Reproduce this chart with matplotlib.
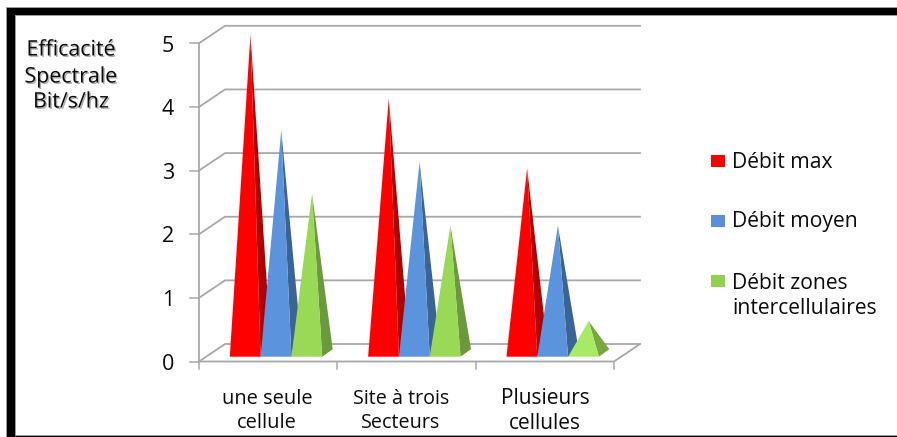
import matplotlib
matplotlib.use("Agg")
import matplotlib.pyplot as plt
import matplotlib.patheffects as pe
from matplotlib.patches import Rectangle

plt.rcParams['font.family'] = ['Open Sans', 'DejaVu Sans']

W, H = 897, 437

categories = ["une seule\ncellule", "Site à trois\nSecteurs", "Plusieurs\ncellules"]
series_names = ["Débit max", "Débit moyen", "Débit zones\nintercellulaires"]
debit_max = [5.0, 4.0, 2.9]
debit_moyen = [3.5, 3.0, 2.0]
debit_zones = [2.5, 2.0, 0.5]
y_ticks = [0, 1, 2, 3, 4, 5]

front_colors = ["#ff0000", "#5b93dc", "#99d955"]
side_colors = ["#b00000", "#3b6496", "#6a9a3b"]

fig = plt.figure(figsize=(W / 100, H / 100), dpi=100)
fig.patch.set_facecolor("white")

# frame around the picture, black with a thin grey edge
for x, y, w, h, c in [(6, 7, 891, 9, "#9a9a9a"), (6, 7, 9.5, 430, "#9a9a9a"), (6, 435, 891, 2, "#9a9a9a"),
                      (7, 8, 890, 7, "black"), (7, 8, 7.5, 429, "black"), (7, 436, 890, 1, "black")]:
    fig.add_artist(Rectangle((x / W, 1 - (y + h) / H), w / W, h / H, transform=fig.transFigure,
                             facecolor=c, edgecolor="none"))

# axes = front plane of the fake 3d box
left, right, top, bottom = 199, 614, 43.3, 361.5
ax = fig.add_axes([left / W, 1 - bottom / H, (right - left) / W, (bottom - top) / H])
ax.set_xlim(0, 3)
ax.set_ylim(0, 5)
ax.axis("off")

ux = (right - left) / 3
uy = (bottom - top) / 5
box_dx, box_dy = 26 / ux, 17.5 / uy
grid = "#a8a8a8"

# back wall and floor
for t in y_ticks:
    ax.plot([0, box_dx, 3 + box_dx], [t, t + box_dy, t + box_dy], color=grid, lw=1.3, clip_on=False, zorder=1)
    ax.plot([-9 / ux, 0], [t, t], color=grid, lw=1.1, clip_on=False, zorder=1)
ax.plot([0, 0], [0, 5], color=grid, lw=1.3, clip_on=False, zorder=1)
ax.plot([0, 3, 3 + box_dx], [0, 0, box_dy], color=grid, lw=1.3, clip_on=False, zorder=1)
for i in range(4):
    ax.plot([i, i], [0, -7 / uy], color=grid, lw=1.1, clip_on=False, zorder=1)

# pyramids
bar_w = 30.8 / ux
base_y = 4.8 / uy
dep_x, dep_y = 10.5 / ux, 7.5 / uy
series = [debit_max, debit_moyen, debit_zones]
z = 3
for g in range(3):
    for s, vals in enumerate(series):
        x0 = g + bar_w + s * bar_w
        x1 = x0 + bar_w
        ax_x = (x0 + x1) / 2 + dep_x / 2
        ax_y = base_y + dep_y / 2 + vals[g]
        front = "#a8ea66" if (g == 2 and s == 2) else front_colors[s]
        side = "#76a83e" if (g == 2 and s == 2) else side_colors[s]
        ax.fill([x1, x1 + dep_x, ax_x], [base_y, base_y + dep_y, ax_y], color=side, lw=0, clip_on=False, zorder=z)
        ax.fill([x0, x1, ax_x], [base_y, base_y, ax_y], color=front, lw=0, clip_on=False, zorder=z + 1)
        z += 2

def px_text(x, y, s, size=15, **kw):
    fig.text(x / W, 1 - y / H, s, fontsize=size, ha=kw.pop("ha", "center"), va="center", color="#0b0b0b",
             linespacing=kw.pop("linespacing", 1.3), **kw)

for t in y_ticks:
    px_text(168, 364 - t * 63.6, str(t), size=15.5)

px_text(267, 411, categories[0], size=14.4)
px_text(401, 411, categories[1], size=14.2)
px_text(545, 411, categories[2], size=15)

shadow = [pe.withSimplePatchShadow(offset=(1, -1), shadow_rgbFace="#777777", alpha=0.6)]
for y, s in zip([50, 77, 102], ["Efficacité", "Spectrale", "Bit/s/hz"]):
    px_text(71, y, s, size=15.4, path_effects=shadow)

# legend
for y, c, s, ty in zip([161, 221, 281], ["#ff0000", "#5b8fd8", "#92d050"], series_names, [162, 222, 296]):
    fig.add_artist(Rectangle((711 / W, 1 - (y + 6) / H), 14 / W, 12 / H, transform=fig.transFigure,
                             facecolor=c, edgecolor="none"))
    px_text(732, ty, s, size=15.2, ha="left", multialignment="left")

fig.savefig("out.png", dpi=100)
